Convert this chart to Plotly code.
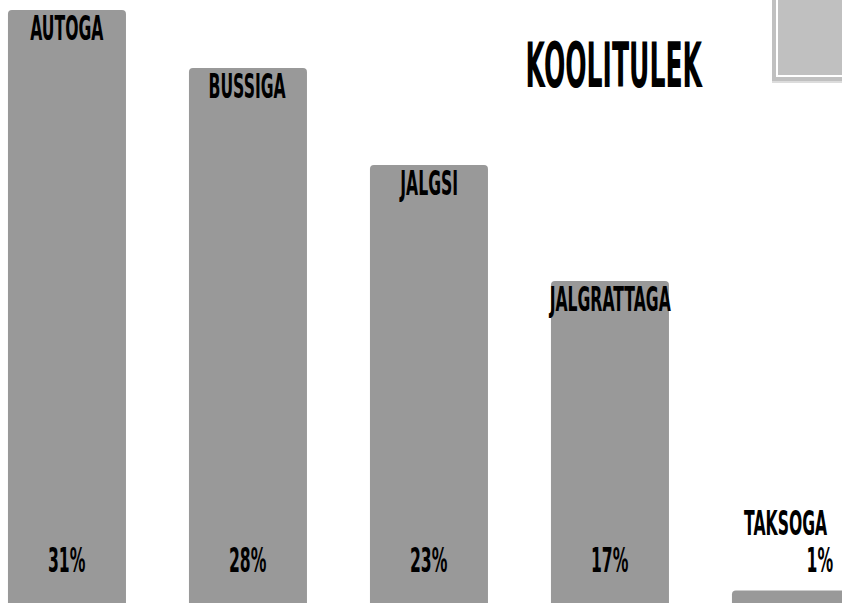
import plotly.graph_objects as go

categories = ["AUTOGA", "BUSSIGA", "JALGSI", "JALGRATTAGA", "TAKSOGA"]
values = [31, 28, 23, 17, 1]
pct_labels = ["31%", "28%", "23%", "17%", "1%"]
title_text = "KOOLITULEK"

W, H = 842, 603
FONT = "DejaVu Sans, sans-serif"
BAR_COLOR = "#999999"
LABEL_SIZE = 34
TITLE_SIZE = 62

xs = list(range(len(categories)))

fig = go.Figure(go.Bar(
    x=xs, y=values,
    marker=dict(color=BAR_COLOR, line=dict(width=0)),
    width=0.652,
    hoverinfo="skip",
))

lab_font = dict(family=FONT, size=LABEL_SIZE, color="#000", weight=700)
annotations = []
for i, (c, v, p) in enumerate(zip(categories, values, pct_labels)):
    if v > 5:
        annotations.append(dict(x=i, y=v, xref="x", yref="y", text=c,
                                showarrow=False, yanchor="middle", yshift=-18,
                                font=lab_font))
        annotations.append(dict(x=i, y=2.58, xref="x", yref="y", text=p,
                                showarrow=False, yanchor="middle",
                                font=lab_font))
    else:
        annotations.append(dict(x=i, y=v, xref="x", yref="y", text=c,
                                showarrow=False, yanchor="middle", yshift=68, xshift=-5,
                                font=lab_font))
        annotations.append(dict(x=i, y=2.58, xref="x", yref="y", text=p,
                                showarrow=False, yanchor="middle", xshift=29.5,
                                font=lab_font))

annotations.append(dict(x=614 / W, y=1 - 65.5 / H, xref="paper", yref="paper",
                        text=title_text, showarrow=False,
                        xanchor="center", yanchor="middle",
                        font=dict(family=FONT, size=TITLE_SIZE, color="#000", weight=700)))

shapes = [
    dict(type="rect", xref="paper", yref="paper", x0=772 / W, x1=1.0, y0=1 - 83 / H, y1=1.0,
         fillcolor="#dcdcdc", line=dict(width=0), layer="above"),
    dict(type="rect", xref="paper", yref="paper", x0=772 / W, x1=1.0, y0=1 - 81 / H, y1=1.0,
         fillcolor="#c0c0c0", line=dict(width=0), layer="above"),
    dict(type="rect", xref="paper", yref="paper", x0=777 / W, x1=1.02, y0=1 - 76 / H, y1=1.02,
         fillcolor="rgba(0,0,0,0)", line=dict(color="white", width=2), layer="above"),
]

fig.update_layout(
    width=W, height=H,
    margin=dict(l=0, r=0, t=0, b=0),
    paper_bgcolor="white", plot_bgcolor="white",
    barcornerradius=4,
    showlegend=False,
    xaxis=dict(visible=False, range=[-0.370, 4.282], fixedrange=True),
    yaxis=dict(visible=False, range=[0.36, 31.52], fixedrange=True),
    annotations=annotations,
    shapes=shapes,
)

post_js = """
document.body.style.margin = '0';
document.querySelectorAll('text.annotation-text').forEach(function(t){
  var fs = parseFloat(t.style.fontSize || '0');
  var sx = fs > 50 ? 0.405 : 0.46;
  t.style.transformBox = 'fill-box';
  t.style.transformOrigin = 'center';
  t.style.transform = 'scaleX(' + sx + ')';
});
"""

fig.write_html("out.html", config={"displayModeBar": False}, post_script=post_js)
